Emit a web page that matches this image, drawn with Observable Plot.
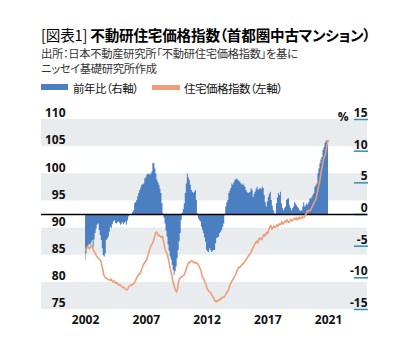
<!DOCTYPE html>
<html>
<head>
<meta charset="utf-8">
<script src="https://cdn.jsdelivr.net/npm/d3@7"></script>
<script src="https://cdn.jsdelivr.net/npm/@observablehq/plot@0.6"></script>
<style>
  html, body { margin: 0; padding: 0; background: #fff; }
  body { width: 409px; height: 354px; position: relative; overflow: hidden;
         font-family: "Noto Sans CJK JP", "Noto Sans", sans-serif; color: #111; }
  .hdr { position: absolute; left: 41px; white-space: nowrap; font-feature-settings: "palt"; }
  #title { top: 26px; font-size: 14.6px; line-height: 18px; letter-spacing: -0.2px; color: #000; }
  #title .lead { font-weight: 400; }
  #title .main { font-weight: 700; }
  .sub { font-size: 11.3px; line-height: 15px; letter-spacing: -0.3px; color: #333; }
  #sub1 { top: 45.5px; }
  #sub2 { top: 60.5px; }
  .sw { position: absolute; }
  .lg { position: absolute; top: 80px; font-size: 11.5px; line-height: 16px; letter-spacing: -0.5px;
        white-space: nowrap; font-feature-settings: "palt"; color: #111; }
  #chart { position: absolute; left: 0; top: 100px; }
</style>
</head>
<body>
<div id="title" class="hdr"><span class="lead">[図表1] </span><span class="main">不動研住宅価格指数（首都圏中古マンション）</span></div>
<div id="sub1" class="hdr sub">出所：日本不動産研究所「不動研住宅価格指数」を基に</div>
<div id="sub2" class="hdr sub">ニッセイ基礎研究所作成</div>
<div id="legend"></div>
<div id="chart"></div>
<script>
// ---- Data (monthly, Jan 2002 .. Jan 2022) ----
const startYear = 2002;

// 住宅価格指数 (left axis)
const indexValues = [
  85.8, 86.3, 86.6, 86.4, 86.2, 86.5, 86.8, 86.4, 85.9, 85.5, 85.2, 84.8,
  84.6, 84.4, 84.2, 84.0, 83.2, 82.3, 81.4, 81.0, 80.8, 80.7, 80.6, 80.5,
  80.4, 80.6, 80.3, 80.1, 80.3, 80.0, 79.8, 80.0, 79.6, 79.5, 79.6, 79.4,
  79.2, 79.0, 79.1, 78.8, 78.7, 78.6, 78.9, 79.3, 79.4, 79.6, 79.5, 79.7,
  79.8, 80.2, 80.6, 81.0, 81.3, 81.6, 81.6, 82.2, 82.7, 83.2, 83.5, 83.8,
  84.0, 84.6, 85.2, 85.8, 86.4, 86.9, 87.1, 87.6, 88.3, 89.0, 89.3, 89.0,
  88.6, 88.7, 88.4, 88.3, 88.5, 87.6, 86.6, 85.8, 85.5, 85.0, 84.2, 83.2,
  82.3, 81.5, 80.5, 79.7, 79.0, 78.5, 78.2, 79.0, 80.2, 80.7, 80.9, 81.0,
  81.2, 81.3, 81.6, 82.2, 82.8, 83.3, 83.7, 83.6, 83.9, 84.0, 83.8, 83.6,
  83.7, 83.5, 83.6, 83.3, 83.1, 82.6, 82.2, 81.2, 80.8, 80.5, 80.0, 79.7,
  78.8, 78.6, 78.3, 78.2, 78.0, 77.6, 77.3, 77.0, 76.5, 76.6, 76.4, 76.7,
  76.7, 77.0, 76.9, 77.2, 77.3, 77.3, 77.6, 78.0, 78.3, 78.5, 79.2, 79.7,
  80.0, 80.4, 80.7, 81.0, 81.3, 81.8, 82.3, 82.8, 82.7, 82.9, 83.2, 83.4,
  83.4, 83.8, 84.0, 84.3, 84.6, 84.9, 85.2, 85.3, 85.8, 86.2, 86.6, 87.0,
  87.3, 87.6, 87.2, 87.8, 88.2, 88.0, 87.8, 88.4, 88.8, 88.5, 88.9, 89.2,
  89.0, 89.7, 90.2, 90.5, 89.8, 90.0, 90.4, 90.1, 90.2, 90.6, 90.3, 90.8,
  90.6, 90.8, 91.2, 90.7, 91.0, 91.3, 91.1, 91.5, 91.2, 91.0, 91.4, 91.6,
  91.3, 91.5, 91.8, 91.6, 91.9, 91.5, 91.7, 92.0, 91.7, 91.8, 92.1, 91.9,
  92.0, 92.4, 92.6, 93.2, 93.0, 93.3, 93.2, 93.6, 94.0, 94.4, 94.8, 95.1,
  95.6, 96.6, 97.5, 98.3, 99.5, 100.6, 101.5, 102.6, 103.2, 103.7, 104.8, 105.8,
  106.1
];

// 前年比 % (right axis)
const yoyValues = [
  -7.3, -6.2, -5.4, -5.0, -4.7, -4.9, -4.5, -4.1, -5.2, -4.0, -3.0, -2.3,
  -1.7, -1.5, -2.5, -3.3, -4.1, -5.4, -6.5, -6.7, -6.2, -4.1, -3.9, -3.6,
  -2.8, -2.0, -2.2, -1.6, -1.2, -1.0, -1.4, -1.5, -1.3, -1.2, -1.4, -1.7,
  -1.5, -1.3, -1.6, -1.4, -1.2, -1.7, -1.0, -0.4, -0.2, -0.1, 0.0, 0.3,
  0.6, 1.7, 1.9, 2.2, 2.8, 3.3, 3.8, 4.2, 4.6, 4.7, 4.8, 5.6,
  5.8, 6.2, 6.3, 6.4, 6.2, 6.4, 6.7, 8.0, 8.1, 7.2, 6.4, 5.4,
  5.0, 4.6, 4.0, 3.3, 1.7, 0.1, -0.6, -1.5, -2.6, -3.6, -4.8, -5.8,
  -6.7, -7.2, -8.0, -8.8, -9.6, -9.0, -8.3, -7.0, -5.7, -4.3, -3.0, -0.9,
  0.2, 0.8, 1.7, 3.3, 4.8, 6.4, 5.8, 5.4, 4.6, 3.8, 3.5, 3.3,
  3.5, 3.8, 2.2, 0.1, -0.7, -1.0, -1.2, -2.0, -2.5, -3.0, -3.7, -4.4,
  -5.7, -5.9, -6.0, -5.4, -5.7, -6.0, -5.8, -5.7, -5.7, -4.6, -3.8, -3.7,
  -3.6, -3.0, -2.8, -2.5, -2.0, -1.5, -0.2, 1.2, 1.8, 2.2, 3.3, 3.7,
  4.1, 4.8, 4.6, 5.0, 5.4, 5.5, 5.6, 5.4, 5.2, 5.1, 4.8, 4.6,
  4.8, 4.5, 4.3, 3.8, 3.5, 3.3, 3.4, 3.5, 4.1, 3.8, 2.7, 3.2,
  3.5, 4.0, 4.3, 3.8, 4.0, 4.1, 3.9, 4.3, 4.1, 3.0, 1.9, 1.2,
  2.0, 2.7, 3.2, 3.5, 2.2, 1.3, 0.6, 0.2, -0.2, 1.7, 2.6, 3.3,
  3.0, 3.5, 1.7, 1.0, 0.6, 0.9, 1.2, 2.2, 2.4, 2.5, 1.4, 1.0,
  0.6, 0.9, 1.2, 1.9, 1.6, 1.4, 1.1, 0.9, 0.6, 0.5, 0.6, 1.2,
  1.9, 1.2, 1.4, 1.7, 1.5, 1.9, 2.5, 2.4, 2.7, 3.0, 3.3, 4.3,
  4.5, 4.8, 6.4, 7.2, 8.0, 8.6, 9.0, 10.1, 10.6, 11.2, 11.5, 11.7,
  11.4
];

const xTickMonths = [0, 60, 120, 180, 240];
const xTickLabels = ["2002", "2007", "2012", "2017", "2021"];
const leftTicks = [75, 80, 85, 90, 95, 100, 105, 110];
const rightTicks = [-15, -10, -5, 0, 5, 10, 15];
const bandRanges = [[75, 80], [85, 90], [95, 100], [105, 110]];
const seriesNames = ["前年比（右軸）", "住宅価格指数（左軸）"];
const rightUnit = "%";

// ---- Styling ----
const BLUE = "#4a7fc2";
const ORANGE = "#ee9d78";
const TEAL = "#2f8db3";
const BAND = "#e9ecef";

// Legend
const legend = document.getElementById("legend");
const legendSpec = [
  {name: seriesNames[0], color: BLUE, sx: 41, sw: 27, sy: 84, sh: 6, tx: 73},
  {name: seriesNames[1], color: ORANGE, sx: 152, sw: 28, sy: 85, sh: 5, tx: 184}
];
for (const s of legendSpec) {
  const sw = document.createElement("div");
  sw.className = "sw";
  Object.assign(sw.style, {left: s.sx + "px", top: s.sy + "px", width: s.sw + "px", height: s.sh + "px", background: s.color});
  legend.appendChild(sw);
  const t = document.createElement("div");
  t.className = "lg";
  t.style.left = s.tx + "px";
  t.textContent = s.name;
  legend.appendChild(t);
}

// Right axis (%) mapped onto left-axis units: 15% <-> 110, -15% <-> 75
const yMin = 75, yMax = 110, pMin = -15, pMax = 15;
const toLeft = p => yMin + (p - pMin) * (yMax - yMin) / (pMax - pMin);

const data = indexValues.map((v, i) => ({i, v, p: yoyValues[i]}));
const xDomain = [-43.5, 278.5];

const chart = Plot.plot({
  width: 409,
  height: 254,
  marginTop: 19,
  marginBottom: 45,
  marginLeft: 41,
  marginRight: 42,
  x: {domain: xDomain},
  y: {domain: [yMin, yMax]},
  style: {fontFamily: "'Open Sans', 'DejaVu Sans', sans-serif", background: "transparent", color: "#111", overflow: "visible"},
  marks: [
    Plot.rect(bandRanges, {x1: () => xDomain[0], x2: () => xDomain[1], y1: d => d[0], y2: d => d[1], fill: BAND}),
    Plot.areaY(data, {x: "i", y1: () => toLeft(0), y2: d => toLeft(d.p), curve: "step", fill: BLUE}),
    Plot.axisY(rightTicks.map(toLeft), {anchor: "right", tickSize: -14, color: TEAL, strokeWidth: 1.5, tickFormat: () => "", label: null}),
    Plot.ruleY([0], {y: toLeft, stroke: "#000", strokeWidth: 1.5}),
    Plot.lineY(data, {x: "i", y: "v", stroke: ORANGE, strokeWidth: 1.6, strokeLinejoin: "round"}),
    Plot.axisX(xTickMonths, {tickSize: 0, tickPadding: 6, fontSize: 12, fontWeight: "bold",
      tickFormat: d => xTickLabels[xTickMonths.indexOf(d)], label: null}),
    Plot.axisY(leftTicks, {anchor: "left", tickSize: 0, tickPadding: 0, dx: 24, dy: -6,
      textAnchor: "end", fontSize: 12, fontWeight: "bold", label: null}),
    Plot.axisY(rightTicks.map(toLeft), {anchor: "right", tickSize: 0, tickPadding: 0, dy: -6.5,
      textAnchor: "end", fontSize: 12, fontWeight: "bold", label: null,
      tickFormat: d => String(rightTicks[rightTicks.map(toLeft).indexOf(d)])}),
    Plot.text([rightUnit], {frameAnchor: "top-right", dx: -19, dy: -7, textAnchor: "end",
      fontSize: 12, fontWeight: "bold", fill: "#111"})
  ]
});
document.getElementById("chart").appendChild(chart);
</script>
</body>
</html>
